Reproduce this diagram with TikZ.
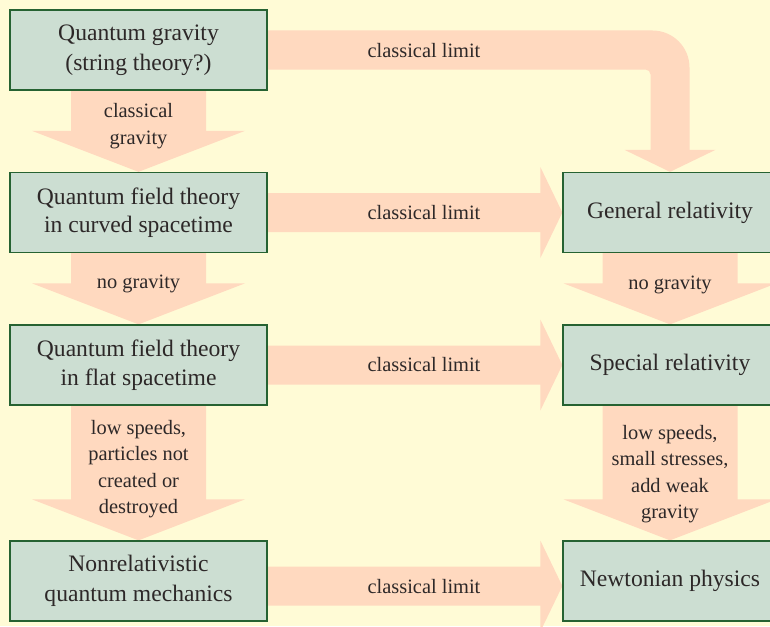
\documentclass[tikz,border=0pt]{standalone}
\usepackage{fontspec}
\setmainfont{Liberation Serif}
\usetikzlibrary{calc,backgrounds}
\definecolor{bgc}{RGB}{255,251,214}
\definecolor{boxfill}{RGB}{204,222,210}
\definecolor{boxline}{RGB}{38,98,50}
\definecolor{arrowfill}{RGB}{255,217,191}
\definecolor{txt}{RGB}{45,40,40}
\pgfdeclarelayer{back}
\pgfsetlayers{back,background,main}
\newcommand\vfat[2]{%
  \fill[arrowfill] ($(#1.south)+(-67.5,-2)$) -- ($(#1.south)+(67.5,-2)$)
    -- ($(#2.north)+(67.5,-41)$) -- ($(#2.north)+(106.5,-41)$) -- (#2.north)
    -- ($(#2.north)+(-106.5,-41)$) -- ($(#2.north)+(-67.5,-41)$) -- cycle;}
\newcommand\hfat[3]{%
  \fill[arrowfill] ($(#1.east)+(-2,{#3-19.5})$) -- ($(#2.west)+(-22,{#3-19.5})$)
    -- ($(#2.west)+(-22,{#3-45.5})$) -- ($(#2.west)+(0,#3)$)
    -- ($(#2.west)+(-22,{#3+45.5})$) -- ($(#2.west)+(-22,{#3+19.5})$)
    -- ($(#1.east)+(-2,{#3+19.5})$) -- cycle;}
\begin{document}
\begin{tikzpicture}[x=1pt,y=-1pt,
  box/.style={draw=boxline, line width=1.3pt, fill=boxfill, minimum width=257pt,
    minimum height=80pt, inner sep=0pt, align=center,
    font=\fontsize{23.6}{29.5}\selectfont, text=txt},
  rbox/.style={box, minimum width=214pt},
  lbl/.style={align=center, font=\fontsize{20.4}{26.3}\selectfont, text=txt, inner sep=0pt}]
\begin{pgfonlayer}{back}
\fill[bgc] (0,0) rectangle (770,626);
\end{pgfonlayer}
\clip (0,0) rectangle (770,626);
% boxes
\node[box] (qg) at (138.5,50) {Quantum gravity\\(string theory?)};
\node[box] (qfc) at (138.5,212.5) {\raisebox{1.5pt}{\begin{tabular}{@{}c@{}}Quantum field theory\\[-1.5pt]in curved spacetime\end{tabular}}};
\node[box] (qff) at (138.5,365) {Quantum field theory\\in flat spacetime};
\node[box] (nqm) at (138.5,581) {Nonrelativistic\\quantum mechanics};
\node[rbox] (gr) at (670,212.5) {General relativity};
\node[rbox] (sr) at (670,365) {Special relativity};
\node[rbox] (np) at (670,581) {Newtonian physics};
% arrows
\begin{pgfonlayer}{background}
\vfat{qg}{qfc}
\vfat{qfc}{qff}
\vfat{qff}{nqm}
\vfat{gr}{sr}
\vfat{sr}{np}
\hfat{qfc}{gr}{0}
\hfat{qff}{sr}{0}
\hfat{nqm}{np}{5}
\coordinate (qgT) at ($(qg.east)+(-2,-19.5)$);
\coordinate (qgB) at ($(qg.east)+(-2,19.5)$);
\coordinate (grR) at ($(gr.north)+(19.5,-22)$);
\coordinate (grL) at ($(gr.north)+(-19.5,-22)$);
\fill[arrowfill] (qgT) -- ($(grR |- qgT)+(-37,0)$)
  arc[start angle=-90, end angle=0, radius=37]
  -- (grR) -- ($(grR)+(26,0)$) -- (gr.north) -- ($(grL)+(-26,0)$) -- (grL)
  -- ($(grL |- qgB)+(0,5)$) arc[start angle=0, end angle=-90, radius=5]
  -- (qgB) -- cycle;
\end{pgfonlayer}
% labels
\node[lbl] (l1) at (138.5,126) {classical\\gravity};
\node[lbl] (l2) at (138.5,284) {no gravity};
\node[lbl] (l3) at (138.5,469) {low speeds,\\particles not\\created or\\destroyed};
\node[lbl] (l4) at (670,284.5) {no gravity};
\node[lbl] (l5) at (670,474) {low speeds,\\small stresses,\\add weak\\gravity};
\node[lbl] (h1) at (424,50.5) {classical limit};
\node[lbl] (h2) at (424,213) {classical limit};
\node[lbl] (h3) at (424,365) {classical limit};
\node[lbl] (h4) at (424,587) {classical limit};
\end{tikzpicture}
\end{document}
